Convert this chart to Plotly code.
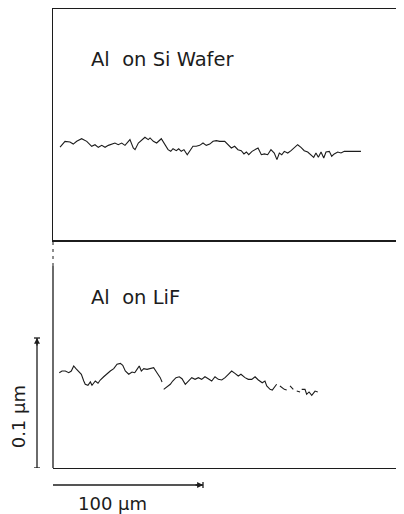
import plotly.graph_objects as go

# ---- data (x in µm along the scan, height in nm) ----
si_x_um = [4.7, 8.0, 11.3, 13.5, 15.8, 19.1, 22.5, 25.8, 28.0, 30.2, 32.5, 34.7, 36.9, 39.1, 41.3,
           43.5, 45.8, 48.0, 50.2, 51.3, 53.5, 54.7, 56.9, 59.1, 61.3, 63.5, 64.7, 66.9, 69.1, 72.2,
           74.5, 76.7, 78.5, 80.0, 82.2, 83.8, 85.5, 87.3, 89.5, 91.1, 93.3, 95.5, 97.8, 100.0, 102.2,
           104.5, 106.7, 108.9, 111.1, 114.5, 116.7, 118.9, 121.1, 123.3, 125.5, 127.3, 128.9, 130.5,
           132.7, 134.9, 136.7, 138.9, 140.9, 143.1, 145.3, 147.5, 149.3, 150.9, 152.5, 154.2, 156.5,
           158.7, 160.9, 163.1, 165.3, 167.5, 169.8, 172.0, 173.8, 175.3, 176.9, 178.7, 180.5, 182.0,
           184.2, 185.8, 187.5, 189.8, 192.0, 194.2, 197.5, 200.9, 205.3]
si_h_nm = [71.5, 75.9, 75.4, 73.8, 75.9, 77.9, 75.9, 72.1, 73.3, 71.3, 72.8, 71.3, 72.8, 73.8, 74.6,
           73.3, 74.6, 72.8, 75.9, 77.2, 70.8, 69.5, 74.6, 77.2, 79.0, 77.2, 78.5, 75.9, 74.6, 77.9,
           73.8, 69.5, 68.2, 70.2, 68.7, 70.2, 68.2, 69.5, 65.6, 68.2, 72.1, 72.1, 72.8, 74.6, 72.8,
           73.8, 75.9, 76.4, 75.9, 75.9, 73.3, 70.8, 72.1, 69.5, 68.7, 66.2, 67.7, 65.6,
           68.2, 69.5, 70.8, 65.6, 66.2, 65.6, 69.5, 66.9, 61.8, 66.9, 65.6, 68.2, 66.9,
           68.7, 70.8, 73.3, 71.3, 68.7, 67.7, 65.6, 63.6, 66.9, 63.6, 67.7, 63.1, 67.7,
           68.2, 64.4, 66.2, 67.7, 66.9, 68.2, 68.2, 67.7, 68.2]

lif_x_um = [4.2, 6.0, 8.2, 10.5, 12.2, 13.8, 15.3, 17.1, 18.9, 20.5, 21.5, 23.3, 24.9, 26.0, 27.1,
            28.2, 30.0, 31.5, 33.8, 36.0, 38.2, 40.5, 42.7, 44.9, 46.5, 48.2, 50.5, 52.7, 54.5, 56.0,
            57.5, 58.9, 60.5, 62.7, 64.9, 67.1, 69.3, 71.5, 72.7, None,
            73.8, 76.0, 78.2, 79.8, 82.0, 84.2, 86.0, 88.2, 89.1, 90.7, 92.5, 94.7, 96.9, 99.1,
            101.3, 103.5, 105.8, 108.0, 110.2, 112.5, 114.7, 116.9, 119.1, 121.3, 123.5, 125.3,
            128.0, 130.2, 132.5, 134.7, 136.9, 139.5, 141.3, 142.5, 144.7, 146.2, 147.5, 149.1, None,
            151.3, 152.5, 154.2, 155.8, None, 158.0, 160.2, None, 162.5, 164.7, None,
            165.8, 168.0, 169.1, 170.7, 172.5, 174.7, 176.5]
lif_h_nm = [73.3, 74.6, 74.6, 73.3, 74.6, 78.5, 76.4, 73.8, 72.1, 66.9, 64.4, 63.6, 66.2, 63.6, 65.6,
            66.9, 65.2, 67.7, 70.2, 72.8, 74.6, 76.4, 79.8, 80.5, 79.0, 74.6, 72.1, 73.8, 73.3, 75.9,
            78.5, 74.6, 76.4, 75.9, 76.4, 77.2, 73.3, 69.5, 66.2, None,
            60.5, 62.5, 64.4, 66.9, 69.5, 70.2, 68.7, 64.4, 65.6, 67.7, 69.5, 68.2, 69.5, 68.2,
            70.2, 68.7, 66.9, 70.2, 68.2, 67.7, 69.5, 72.1, 74.6, 72.8, 70.8, 72.1,
            69.5, 68.2, 68.2, 70.2, 67.7, 65.6, 66.9, 63.1, 60.5, 60.0, 61.8, 64.4, None,
            63.1, 61.8, 60.5, 60.0, None, 63.1, 60.5, None, 59.2, 58.5, None,
            60.5, 60.5, 56.7, 58.5, 55.9, 59.2, 58.5]

panel_labels = ["Al  on Si Wafer", "Al  on LiF"]
scale_x_um = [0, 100]
scale_h_nm = [0, 100]
scale_labels = ["100 µm", "0.1 µm"]

# the page body has an 8px margin, so the figure is drawn 8px in from the window corner
OFF = 8
FW, FH = 404 - OFF, 514 - OFF
INK = "#1c1c1c"
FONT = "DejaVu Sans"


def py(p):  # window pixel row -> paper y
    return 1 - (p - OFF) / FH


def px(p):  # window pixel column -> paper x
    return (p - OFF) / FW


fig = go.Figure()
fig.add_trace(go.Scatter(x=si_x_um, y=si_h_nm, mode="lines", xaxis="x2", yaxis="y",
                         line=dict(color=INK, width=1.1), connectgaps=False, showlegend=False))
fig.add_trace(go.Scatter(x=lif_x_um, y=lif_h_nm, mode="lines", xaxis="x", yaxis="y2",
                         line=dict(color=INK, width=1.1), connectgaps=False, showlegend=False))

ax_common = dict(showgrid=False, zeroline=False, showticklabels=False, ticks="", fixedrange=True)
x_dom = [px(53), 1]
fig.update_layout(
    width=FW, height=FH, margin=dict(l=0, r=0, t=0, b=0),
    paper_bgcolor="white", plot_bgcolor="white",
    xaxis=dict(domain=x_dom, range=[0, 234], anchor="y2", showline=True, linecolor=INK,
               linewidth=1.4, **ax_common),
    xaxis2=dict(domain=x_dom, range=[0, 234], anchor="y", matches="x", showline=True,
                mirror=True, linecolor=INK, linewidth=1.6, **ax_common),
    yaxis=dict(domain=[py(240), py(9)], range=[0, 231 / 1.3], anchor="x2", showline=True,
               linecolor=INK, linewidth=1.3, **ax_common),
    yaxis2=dict(domain=[py(468), py(240)], range=[0, 228 / 1.3], anchor="x", showline=False,
                **ax_common),
)

shapes = []
# left border of lower panel: solid, with a broken upper section
shapes.append(dict(type="line", xref="paper", yref="paper", x0=px(53), x1=px(53), y0=py(468), y1=py(266),
                   line=dict(color=INK, width=1.3)))
shapes.append(dict(type="line", xref="paper", yref="paper", x0=px(53), x1=px(53), y0=py(266), y1=py(240),
                   line=dict(color=INK, width=1.0, dash="3px,4px")))
# vertical scale bar (0.1 µm)
shapes.append(dict(type="line", xref="paper", yref="y2", x0=px(37), x1=px(37),
                   y0=scale_h_nm[0], y1=scale_h_nm[1], line=dict(color=INK, width=1.3)))
for v in scale_h_nm:
    shapes.append(dict(type="line", xref="paper", yref="y2", x0=px(34), x1=px(40), y0=v, y1=v,
                       line=dict(color=INK, width=1.3)))
# horizontal scale bar (100 µm)
shapes.append(dict(type="line", xref="x", yref="paper", x0=scale_x_um[0], x1=scale_x_um[1],
                   y0=py(485), y1=py(485), line=dict(color=INK, width=1.3)))
shapes.append(dict(type="line", xref="x", yref="paper", x0=scale_x_um[1], x1=scale_x_um[1],
                   y0=py(482), y1=py(488), line=dict(color=INK, width=1.3)))
fig.update_layout(shapes=shapes)

ann = [
    dict(text=panel_labels[0], xref="paper", yref="paper", x=px(89), y=py(60), xanchor="left",
         yanchor="middle", showarrow=False, font=dict(family=FONT, size=19.5, color=INK)),
    dict(text=panel_labels[1], xref="paper", yref="paper", x=px(89), y=py(297), xanchor="left",
         yanchor="middle", showarrow=False, font=dict(family=FONT, size=19.5, color=INK)),
    dict(text=scale_labels[0], xref="paper", yref="paper", x=px(112), y=py(503),
         xanchor="center", yanchor="middle", showarrow=False, font=dict(family=FONT, size=18, color=INK)),
    dict(text=scale_labels[1], xref="paper", yref="y2", x=px(18), y=39, textangle=-90,
         xanchor="center", yanchor="middle", showarrow=False, font=dict(family=FONT, size=18, color=INK)),
    # arrow tips on the scale bars
    dict(text="", xref="paper", yref="y2", x=px(37), y=scale_h_nm[1], ax=0, ay=9, showarrow=True,
         arrowhead=2, arrowsize=0.9, arrowwidth=1.3, arrowcolor=INK),
    dict(text="", xref="x", yref="paper", x=scale_x_um[1], y=py(485), ax=-9, ay=0, showarrow=True,
         arrowhead=2, arrowsize=0.9, arrowwidth=1.3, arrowcolor=INK),
]
fig.update_layout(annotations=ann)

fig.write_html("out.html")
